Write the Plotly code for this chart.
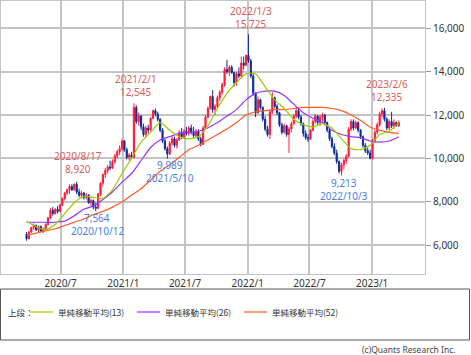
import pandas as pd
import plotly.graph_objects as go

# ---------------- data ----------------
weeks = pd.date_range("2020-03-23", periods=157, freq="7D")

open_ = [6500,6300,6600,6800,6900,6700,6850,6650,6750,6950,7250,7600,7450,7650,7550,7850,8150,8400,8550,8700,
         8550,8800,8450,8300,8400,8200,8300,7950,8050,7750,7700,8350,8850,9250,9450,9600,9550,9850,10100,10300,
         10450,10800,10400,10050,10150,10050,12350,11700,11950,11450,11100,11400,11300,11850,12200,12050,11800,11300,10800,10450,
         10200,10700,10900,10600,10850,11200,11000,11250,11150,11400,11200,11050,11250,10900,10650,11400,11900,12300,12850,12250,
         12400,12800,13050,13400,14100,14000,14200,13950,13500,13900,13800,14400,14300,14750,14500,13800,13000,12100,12700,12350,
         11800,11350,11100,12150,12800,12400,12100,11550,11200,11500,11100,11350,11600,11950,12200,11900,11600,11150,10950,10900,
         11300,11700,11950,11650,11900,12000,11650,11300,10900,10550,10250,9850,9400,9700,9900,10100,11350,11700,11400,11650,
         11300,11000,10600,10350,10250,10000,10800,11200,11550,12050,12200,11800,11400,11700,11500,11650,11500]
high_ = [6600,6650,6850,7000,6950,6900,6900,6800,7000,7300,7700,7750,7700,7800,7900,8200,8450,8600,8800,8800,
         8850,8920,8600,8500,8450,8400,8350,8150,8100,7950,8400,8900,9300,9550,9700,9900,9950,10200,10400,10600,
         10900,10850,10500,10250,10300,12545,12450,12100,12000,11600,11500,11550,11900,12250,12300,12150,11850,11400,10900,10550,
         10800,11000,11000,10950,11300,11400,11350,11450,11500,11550,11450,11350,11350,11000,11500,12000,12400,12900,13150,12500,
         12900,13150,13500,14200,14550,14300,14300,14000,14000,14200,14700,14700,14800,15725,14600,13900,13050,12850,12750,12400,
         11950,11500,12250,13050,12850,12500,12150,11650,11600,11550,11450,11700,12050,12400,12300,12000,11650,11300,11100,11350,
         11800,12050,12000,12000,12100,12050,11700,11400,11000,10700,10400,9900,9800,10000,10200,11450,11800,11800,11750,11700,
         11350,11050,10700,10500,10400,10900,11300,11650,12150,12300,12335,11900,11800,12150,11800,11700,11750]
low_ = [6200,6250,6550,6700,6650,6600,6600,6550,6700,6900,7200,7350,7400,7450,7500,7800,8050,8300,8350,8500,
        8500,8350,8200,8150,8100,8100,7900,7800,7650,7564,7650,8250,8700,9100,9300,9450,9500,9750,10000,10150,
        10350,10300,9950,9900,9950,10000,11600,11500,11300,11000,10950,11150,11250,11800,11950,11700,11200,10700,10350,9989,
        10150,10600,10500,10450,10800,10900,10900,11050,11050,11100,10950,10950,10800,10550,10600,11350,11850,12250,12100,12000,
        12300,12650,12950,13300,13900,13800,13900,13300,13350,13700,13750,14100,14250,14400,13700,12900,11900,12050,12250,11700,
        11250,11000,10900,12050,12300,12000,11450,11100,11150,11000,10250,11200,11550,11850,11800,11500,11000,10850,10750,10850,
        11250,11600,11550,11500,11700,11550,11200,10800,10450,10150,9750,9300,9213,9500,9750,10050,11250,11300,11350,11200,
        10900,10500,10250,10150,9950,9950,10700,11100,11450,11900,11700,11300,11300,11400,11350,11450,11450]
close_ = [6300,6600,6800,6900,6700,6850,6650,6750,6950,7250,7600,7450,7650,7550,7850,8150,8400,8550,8700,8550,
          8800,8450,8300,8400,8200,8300,7950,8050,7750,7700,8350,8850,9250,9450,9600,9550,9850,10100,10300,10450,
          10800,10400,10050,10150,10050,12350,11700,11950,11450,11100,11400,11300,11850,12200,12050,11800,11300,10800,10450,10200,
          10700,10900,10600,10850,11200,11000,11250,11150,11400,11200,11050,11250,10900,10650,11400,11900,12300,12850,12250,12400,
          12800,13050,13400,14100,14000,14200,13950,13500,13900,13800,14400,14300,14750,14500,13800,13000,12100,12700,12350,11800,
          11350,11100,12150,12800,12400,12100,11550,11200,11500,11100,11350,11600,11950,12200,11900,11600,11150,10950,10900,11300,
          11700,11950,11650,11900,12000,11650,11300,10900,10550,10250,9850,9400,9700,9900,10100,11350,11700,11400,11650,11300,
          11000,10600,10350,10250,10000,10800,11200,11550,12050,12200,11800,11400,11700,11500,11650,11500,11650]

# moving averages, every 4th week
ma_weeks = weeks[::4]
ma13 = [7100,6850,6700,6950,7450,7950,8250,8200,8150,8550,9300,10000,10750,11200,11650,11300,11000,10900,11000,11500,
        12300,13000,13500,13900,13900,13300,12700,12300,11800,11550,11450,11600,11400,10900,10450,10400,10600,11100,11250,11650]
ma26 = [7050,7050,7050,7050,7100,7350,7650,7800,8100,8450,8900,9300,9900,10500,10850,11000,11150,11200,11250,11400,
        11650,11950,12250,12700,13000,13100,13100,12900,12500,12100,11850,11650,11300,11100,11000,10950,10800,10750,10800,11000]
ma52 = [6450,6550,6650,6750,6900,7050,7200,7400,7550,7750,7980,8300,8600,9000,9400,9700,10050,10400,10600,10850,
        11100,11350,11650,12000,12150,12200,12250,12250,12300,12350,12350,12350,12300,12200,12000,11750,11450,11300,11200,11150]

tick_dates = ["2020-07-01", "2021-01-01", "2021-07-01", "2022-01-01", "2022-07-01", "2023-01-01"]
tick_text = ["2020/7", "2021/1", "2021/7", "2022/1", "2022/7", "2023/1"]
y_ticks = [6000, 8000, 10000, 12000, 14000, 16000]

hi_labels = [("2020/8/17", "8,920"), ("2021/2/1", "12,545"), ("2022/1/3", "15,725"), ("2023/2/6", "12,335")]
lo_labels = [("7,564", "2020/10/12"), ("9,989", "2021/5/10"), ("9,213", "2022/10/3")]
legend_names = ["単純移動平均(13)", "単純移動平均(26)", "単純移動平均(52)"]

# ---------------- style ----------------
W, H = 471, 355
L, R, T, B = 1, 425, 1, 274
FONT = "Noto Sans CJK JP"
RED_TXT = "#e05a5a"
BLUE_TXT = "#4a7ee6"
C13, C26, C52 = "#99cc00", "#9933ff", "#ff5a28"
GRID = "#c4c4c4"

def px(x):
    return (x - L) / (R - L)

def py(y):
    return (B - y) / (B - T)

fig = go.Figure()
fig.add_trace(go.Candlestick(
    x=weeks, open=open_, high=high_, low=low_, close=close_,
    increasing=dict(line=dict(color="#ff1a3c", width=1), fillcolor="#ff1a3c"),
    decreasing=dict(line=dict(color="#0d2d96", width=1), fillcolor="#0d2d96"),
    whiskerwidth=0, showlegend=False, hoverinfo="skip"))
for vals, col in [(ma52, C52), (ma26, C26), (ma13, C13)]:
    fig.add_trace(go.Scatter(x=ma_weeks, y=vals, mode="lines",
                             line=dict(color=col, width=1.2, shape="spline", smoothing=0.6),
                             showlegend=False, hoverinfo="skip"))

ann = []
LBL = dict(family="Noto Sans", size=10)
# label positions in pixels (center x, line1 y, line2 y)
hi_pos = [(78, 156, 169), (136, 79, 92), (251, 11, 24), (387, 84, 97)]
lo_pos = [(97, 218, 231), (170, 165, 178), (344, 183, 196)]
for (a, b), (x, y1, y2) in zip(hi_labels, hi_pos):
    ann.append(dict(text=a, x=px(x), y=py(y1), font=dict(color=RED_TXT, **LBL)))
    ann.append(dict(text=b, x=px(x), y=py(y2), font=dict(color=RED_TXT, **LBL)))
for (a, b), (x, y1, y2) in zip(lo_labels, lo_pos):
    ann.append(dict(text=a, x=px(x), y=py(y1), font=dict(color=BLUE_TXT, **LBL)))
    ann.append(dict(text=b, x=px(x), y=py(y2), font=dict(color=BLUE_TXT, **LBL)))
for a in ann:
    a.update(xref="paper", yref="paper", xanchor="center", yanchor="middle", showarrow=False)

shapes = []
# legend box
shapes.append(dict(type="rect", xref="paper", yref="paper",
                   x0=px(0.5), x1=px(469.5), y0=py(289), y1=py(340),
                   line=dict(color="#555555", width=1)))
ann.append(dict(text="上段：", x=px(6), y=py(312), xref="paper", yref="paper",
                xanchor="left", yanchor="middle", showarrow=False,
                font=dict(size=8.5, color="#333333")))
for (x0, tx), col, name in zip([(30, 56), (137, 163), (244, 270)], [C13, C26, C52], legend_names):
    shapes.append(dict(type="line", xref="paper", yref="paper", x0=px(x0), x1=px(x0 + 23),
                       y0=py(312), y1=py(312), line=dict(color=col, width=1.2)))
    ann.append(dict(text=name, x=px(tx), y=py(312), xref="paper", yref="paper",
                    xanchor="left", yanchor="middle", showarrow=False,
                    font=dict(size=8.5, color="#333333")))
ann.append(dict(text="(c)Quants Research Inc.", x=px(458), y=py(349), xref="paper", yref="paper",
                xanchor="right", yanchor="middle", showarrow=False,
                font=dict(family="Noto Sans", size=8.5, color="#444444")))

fig.update_layout(
    width=W, height=H,
    margin=dict(l=L, r=W - R, t=T, b=H - B, pad=0),
    paper_bgcolor="white", plot_bgcolor="white",
    font=dict(family=FONT, size=10, color="#333333"),
    annotations=ann, shapes=shapes,
    xaxis=dict(type="date", range=["2020-01-08", "2023-06-05"],
               tickvals=tick_dates, ticktext=tick_text,
               showgrid=True, gridcolor=GRID, gridwidth=2,
               showline=True, linecolor=GRID, linewidth=1, mirror=True,
               rangeslider=dict(visible=False), ticks="",
               tickfont=dict(family="Noto Sans", size=10, color="#333333")),
    yaxis=dict(side="right", range=[4662, 17262], tickvals=y_ticks,
               tickformat=",d", showgrid=True, gridcolor=GRID, gridwidth=2,
               showline=True, linecolor=GRID, linewidth=1, mirror=True,
               ticks="outside", ticklen=5, tickcolor="#999999",
               zeroline=False, tickfont=dict(family="Noto Sans", size=10, color="#333333")),
)

fig.write_html("out.html")
